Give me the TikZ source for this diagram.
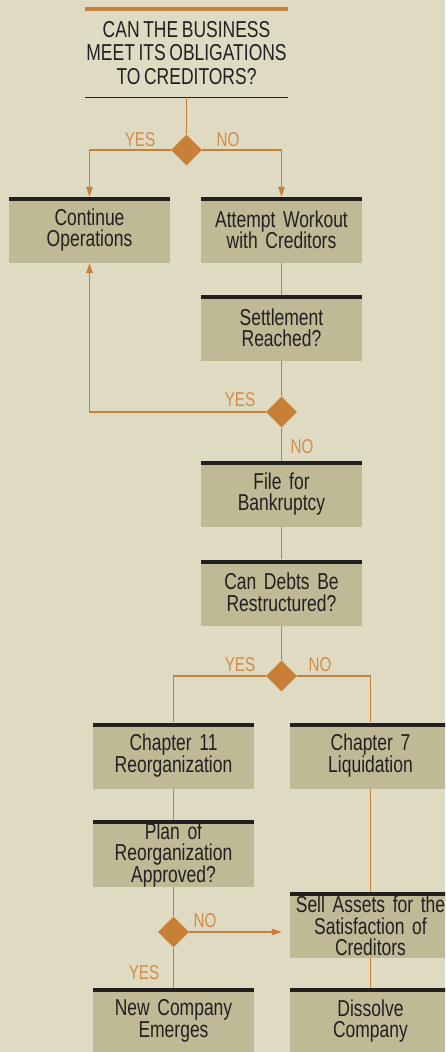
\documentclass[tikz,border=0pt]{standalone}
\usepackage{fontspec}
\setmainfont{Liberation Sans}[FakeStretch=0.76, WordSpace=0.75]
\usepackage{tikz}
\usetikzlibrary{shapes.geometric,arrows.meta}

\definecolor{bgcol}{RGB}{223,218,194}
\definecolor{boxcol}{RGB}{191,185,150}
\definecolor{barcol}{RGB}{35,31,32}
\definecolor{flowcol}{RGB}{200,128,56}
\definecolor{labelcol}{RGB}{212,140,72}

\tikzset{
  stepbox/.style={fill=boxcol, minimum width=161pt, minimum height=66pt, inner sep=0pt,
    text width=159pt, align=center, text=barcol,
    font=\fontsize{23}{21.5}\selectfont,
    path picture={\fill[barcol] (path picture bounding box.north west) rectangle
      ([yshift=-4pt]path picture bounding box.north east);}},
  choice/.style={diamond, aspect=1, fill=flowcol, minimum width=31pt, minimum height=31pt, inner sep=0pt},
  flow/.style={draw=flowcol, line width=1.3pt},
  arr/.style={-{Triangle[length=10pt,width=6.5pt]}},
  answer/.style={text=labelcol, inner sep=0pt, font=\fontsize{20}{20}\selectfont}
}

\begin{document}
\begin{tikzpicture}[x=1pt,y=-1pt]

% page and background
\useasboundingbox (0,0) rectangle (445,1052);
\clip (0,0) rectangle (445,1052);
\fill[bgcol] (0,0) rectangle (445,1052);

% the question at the top
\node (question) [minimum width=203pt, minimum height=88pt, inner sep=0pt, align=center, text=barcol,
  font=\fontsize{23}{23.5}\selectfont] at (186.5,53)
  {CAN THE BUSINESS\\MEET ITS OBLIGATIONS\\TO CREDITORS?};
\draw [flowcol, line width=3.5pt] (question.north west) -- (question.north east);
\draw [barcol, line width=1pt] (question.south west) -- (question.south east);

% boxes
\node (continue) [stepbox] at (89.5,230) {Continue\\Operations};
\node (workout) [stepbox] at (281.5,230) {Attempt Workout\\with Creditors};
\node (settled) [stepbox] at (281.5,328) {Settlement\\Reached?};
\node (file) [stepbox] at (281.5,494) {File for\\Bankruptcy};
\node (restructure) [stepbox] at (281.5,592.5) {Can Debts Be\\Restructured?};
\node (chelven) [stepbox] at (173.5,755.5) {Chapter 11\\Reorganization};
\node (chseven) [stepbox] at (370.5,755.5) {Chapter 7\\Liquidation};
\node (plan) [stepbox] at (173.5,853.5) {\rule{0pt}{19pt}Plan of\\Reorganization\\Approved?};
\node (sell) [stepbox] at (370.5,925) {\rule{0pt}{19pt}Sell Assets for the\\Satisfaction of\\Creditors};
\node (newco) [stepbox] at (173.5,1021) {New Company\\Emerges};
\node (dissolve) [stepbox] at (370.5,1021) {Dissolve\\Company};

% decision points
\node (d_1) [choice] at (186.5,150) {};
\node (d_2) [choice] at (281.5,412) {};
\node (d_3) [choice] at (281.5,676) {};
\node (d_4) [choice] at (173.5,932) {};

% connectors
\draw [flow] (question.south) -- (d_1.north);
\draw [flow, arr] (d_1.west) -| (continue.north);
\draw [flow, arr] (d_1.east) -| (workout.north);
\draw [flow] (workout.south) -- (settled.north);
\draw [flow] (settled.south) -- (d_2.north);
\draw [flow, arr] (d_2.west) -| (continue.south);
\draw [flow] (d_2.south) -- (file.north);
\draw [flow] (file.south) -- (restructure.north);
\draw [flow] (restructure.south) -- (d_3.north);
\draw [flow] (d_3.west) -| (chelven.north);
\draw [flow] (d_3.east) -| (chseven.north);
\draw [flow] (chelven.south) -- (plan.north);
\draw [flow] (plan.south) -- (d_4.north);
\draw [flow, arr, shorten >=8pt] (d_4.east) -- (d_4.east -| sell.west);
\draw [flow] (d_4.south) -- (newco.north);
\draw [flow] (chseven.south) -- (sell.north);
\draw [flow] (sell.south) -- (dissolve.north);

% answers
\node (yes_1) [answer] at (140,140) {YES};
\node (no_1) [answer] at (228,140) {NO};
\node (yes_2) [answer] at (240,400) {YES};
\node (no_2) [answer] at (302,447) {NO};
\node (yes_3) [answer] at (240,665) {YES};
\node (no_3) [answer] at (320,665) {NO};
\node (no_4) [answer] at (205,921) {NO};
\node (yes_4) [answer] at (144,973) {YES};

\end{tikzpicture}
\end{document}
